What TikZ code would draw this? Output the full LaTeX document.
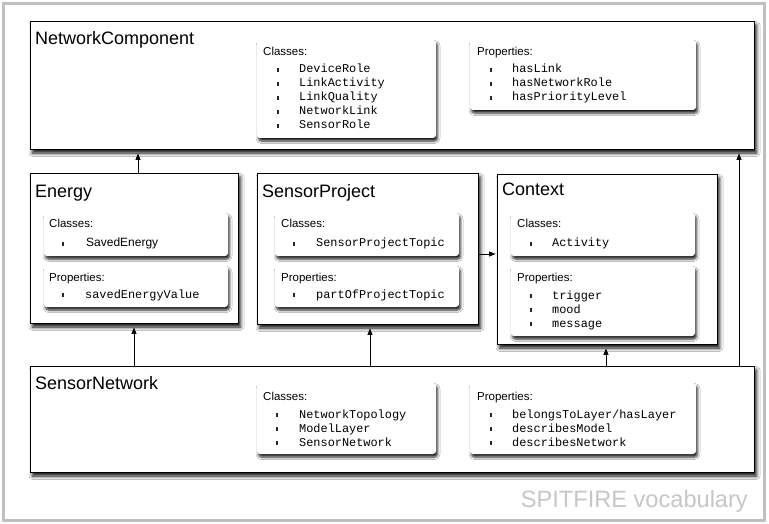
\documentclass[tikz,border=0pt]{standalone}
\usepackage{fontspec}
\setmainfont{Liberation Sans}
\newfontfamily\monof{Liberation Mono}
\usetikzlibrary{shadows.blur,fit,arrows.meta}
\tikzset{
 outerbox/.style={draw=black, line width=0.9pt, fill=white, inner sep=0pt,
   blur shadow={shadow xshift=2.5pt, shadow yshift=-4pt, shadow blur radius=3.5pt, shadow blur steps=6, shadow opacity=95}},
 subbox/.style={fill=white, rounded corners=3pt, inner sep=0pt,
   blur shadow={shadow xshift=1.5pt, shadow yshift=-3pt, shadow blur radius=2.5pt, shadow blur steps=5, shadow opacity=90}},
 ttl/.style={anchor=base west, inner sep=0pt, font=\fontsize{18}{18}\selectfont},
 lbl/.style={anchor=base west, inner sep=0pt, font=\fontsize{11.5}{12}\selectfont},
 code/.style={anchor=base west, inner sep=0pt, font=\monof\fontsize{11.9}{12}\selectfont},
 stxt/.style={anchor=base west, inner sep=0pt, font=\fontsize{12}{12}\selectfont},
 bul/.style={fill=black!85, inner sep=0pt, minimum width=2.8pt, minimum height=3.4pt},
 arr/.style={-{Triangle[length=6.5pt,width=5pt]}, line width=0.8pt, shorten >=4pt},
}
\begin{document}
\begin{tikzpicture}[x=1pt,y=-1pt]
\useasboundingbox (0,0) rectangle (769,524);
\fill[white] (0,0) rectangle (769,524);
\draw[black!25, line width=3pt] (3.5,3.5) rectangle (764.5,520.5);

% outer boxes
\node[outerbox, fit={(30,21)(754,149)}] (nc) {};
\node[outerbox, fit={(30,173)(238,323)}] (en) {};
\node[outerbox, fit={(257,173)(478,324)}] (sp) {};
\node[outerbox, fit={(497,174)(717,344)}] (ctx) {};
\node[outerbox, fit={(30,366)(754,472)}] (sn) {};

% titles
\node[ttl] (ncT) at (35,45) {NetworkComponent};
\node[ttl] (enT) at (35,197) {Energy};
\node[ttl] (spT) at (262,197) {SensorProject};
\node[ttl] (ctxT) at (502,196) {Context};
\node[ttl] (snT) at (35,389) {SensorNetwork};

% NetworkComponent sub boxes
\node[subbox, fit={(257,40)(436,138)}] (ncC) {};
\node[subbox, fit={(470,40)(696,110)}] (ncP) {};
\node[lbl] (ncCl) at (263,56) {Classes:};
\foreach \t [count=\i from 0] in {DeviceRole,LinkActivity,LinkQuality,NetworkLink,SensorRole}{
  \node[bul] (ncCb\i) at (278,{70+14*\i}) {};
  \node[code] (ncCt\i) at (299,{73+14*\i}) {\t};
}
\node[lbl] (ncPl) at (477,56) {Properties:};
\foreach \t [count=\i from 0] in {hasLink,hasNetworkRole,hasPriorityLevel}{
  \node[bul] (ncPb\i) at (491,{70+14*\i}) {};
  \node[code] (ncPt\i) at (512,{73+14*\i}) {\t};
}

% Energy sub boxes
\node[subbox, fit={(44,213)(228,256)}] (enC) {};
\node[subbox, fit={(44,266)(228,307)}] (enP) {};
\node[lbl] (enCl) at (49,228) {Classes:};
\node[bul] (enCb) at (63,244) {};
\node[stxt] (enCt) at (86,247) {SavedEnergy};
\node[lbl] (enPl) at (49,281) {Properties:};
\node[bul] (enPb) at (63,295) {};
\node[code] (enPt) at (85,298) {savedEnergyValue};

% SensorProject sub boxes
\node[subbox, fit={(275,213)(459,256)}] (spC) {};
\node[subbox, fit={(275,266)(459,307)}] (spP) {};
\node[lbl] (spCl) at (281,228) {Classes:};
\node[bul] (spCb) at (294,244) {};
\node[code] (spCt) at (316,247) {SensorProjectTopic};
\node[lbl] (spPl) at (281,281) {Properties:};
\node[bul] (spPb) at (294,295) {};
\node[code] (spPt) at (316,298) {partOfProjectTopic};

% Context sub boxes
\node[subbox, fit={(511,213)(695,256)}] (ctxC) {};
\node[subbox, fit={(511,266)(695,336)}] (ctxP) {};
\node[lbl] (ctxCl) at (517,228) {Classes:};
\node[bul] (ctxCb) at (531,244) {};
\node[code] (ctxCt) at (552,247) {Activity};
\node[lbl] (ctxPl) at (517,281) {Properties:};
\foreach \t [count=\i from 0] in {trigger,mood,message}{
  \node[bul] (ctxPb\i) at (531,{296+14*\i}) {};
  \node[code] (ctxPt\i) at (552,{299+14*\i}) {\t};
}

% SensorNetwork sub boxes
\node[subbox, fit={(257,383)(436,454)}] (snC) {};
\node[subbox, fit={(470,383)(696,454)}] (snP) {};
\node[lbl] (snCl) at (263,400) {Classes:};
\foreach \t [count=\i from 0] in {NetworkTopology,ModelLayer,SensorNetwork}{
  \node[bul] (snCb\i) at (277,{415+14*\i}) {};
  \node[code] (snCt\i) at (299,{418+14*\i}) {\t};
}
\node[lbl] (snPl) at (477,400) {Properties:};
\foreach \t [count=\i from 0] in {belongsToLayer/hasLayer,describesModel,describesNetwork}{
  \node[bul] (snPb\i) at (491,{415+14*\i}) {};
  \node[code] (snPt\i) at (512,{418+14*\i}) {\t};
}

% connector guides
\coordinate (xa) at (138,0);
\coordinate (xb) at (134,0);
\coordinate (xc) at (370,0);
\coordinate (xd) at (606,0);
\coordinate (xe) at (739,0);
\coordinate (yf) at (0,254);

\draw[arr] (en.north -| xa) -- (nc.south -| xa);
\draw[arr] (sn.north -| xb) -- (en.south -| xb);
\draw[arr] (sn.north -| xc) -- (sp.south -| xc);
\draw[arr] (sn.north -| xd) -- (ctx.south -| xd);
\draw[arr] (sn.north -| xe) -- (nc.south -| xe);
\draw[arr, shorten >=1pt] (sp.east |- yf) -- (ctx.west |- yf);

\node[anchor=base east, inner sep=0pt, text=black!22, font=\fontsize{23.6}{24}\selectfont] (cap) at (748,507) {SPITFIRE vocabulary};
\end{tikzpicture}
\end{document}
